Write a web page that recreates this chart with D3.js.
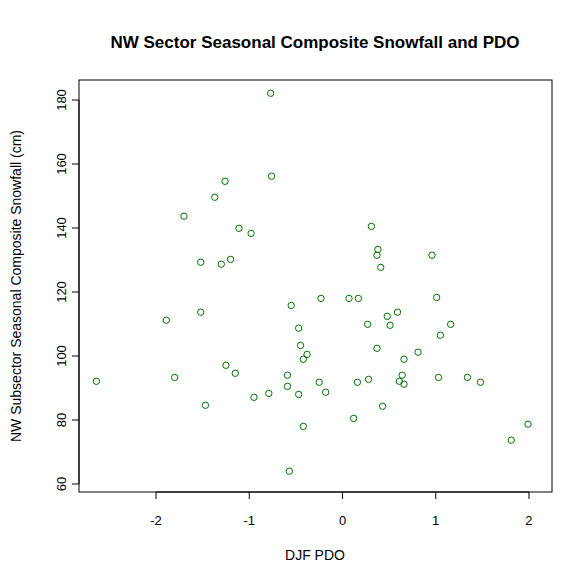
<!DOCTYPE html>
<html>
<head>
<meta charset="utf-8">
<script src="https://d3js.org/d3.v7.min.js"></script>
<style>
  body { margin: 0; background: #fff; }
  text { font-family: "Liberation Sans", Arial, sans-serif; }
</style>
</head>
<body>
<script>
// DJF PDO values and NW subsector seasonal composite snowfall (cm)
var pdo = [-0.77, -0.76, -1.26, -1.37, -1.70, -1.11, -0.98, -1.52, -1.30, -1.20,
           -0.55, -1.89, -1.52, -0.47, -0.45, -0.38, -0.42, -1.25, -1.15, -0.59,
           -0.59, -2.64, -1.80, -0.95, -0.79, -0.47, -1.47, -0.42, -0.57, -0.25,
           -0.23, 0.31, 0.38, 0.37, 0.41, 0.96, 0.07, 0.17, 1.01, 0.48,
           0.59, 0.27, 0.51, 1.16, 1.05, 0.37, 0.81, 0.66, 0.64, 0.61,
           0.66, 1.03, 1.34, 1.48, 0.16, 0.28, -0.18, 0.43, 0.12, 1.99, 1.81];
var snow = [182.1, 156.2, 154.6, 149.6, 143.7, 139.9, 138.3, 129.3, 128.7, 130.2,
            115.8, 111.2, 113.7, 108.7, 103.3, 100.5, 99.0, 97.1, 94.6, 94.0,
            90.5, 92.1, 93.3, 87.1, 88.3, 88.0, 84.6, 78.0, 64.0, 91.8,
            118.0, 140.5, 133.3, 131.5, 127.7, 131.5, 118.0, 118.0, 118.3, 112.4,
            113.7, 109.9, 109.6, 109.9, 106.5, 102.4, 101.2, 99.0, 94.0, 92.1,
            91.2, 93.3, 93.3, 91.8, 91.8, 92.7, 88.7, 84.3, 80.5, 78.7, 73.7];
var xTicks = [-2, -1, 0, 1, 2];
var yTicks = [60, 80, 100, 120, 140, 160, 180];

var W = 586, H = 585;
var pLeft = 79, pRight = 552, pTop = 80, pBottom = 492;

var svg = d3.select("body").append("svg").attr("width", W).attr("height", H);

var x = d3.scaleLinear().domain([-2.826, 2.247]).range([pLeft, pRight]);
var y = d3.scaleLinear().domain([57.5, 186.25]).range([pBottom, pTop]);

svg.append("rect")
  .attr("x", pLeft).attr("y", pTop)
  .attr("width", pRight - pLeft).attr("height", pBottom - pTop)
  .attr("fill", "none").attr("stroke", "#000");

// x axis
var gx = svg.append("g");
gx.append("line").attr("x1", x(-2)).attr("x2", x(2)).attr("y1", pBottom).attr("y2", pBottom).attr("stroke", "#000");
gx.selectAll("line.t").data(xTicks).enter().append("line").attr("class", "t")
  .attr("x1", d => x(d)).attr("x2", d => x(d)).attr("y1", pBottom).attr("y2", pBottom + 7).attr("stroke", "#000");
gx.selectAll("text").data(xTicks).enter().append("text")
  .attr("x", d => x(d)).attr("y", 525).attr("text-anchor", "middle")
  .attr("font-size", 13).text(d => d);

// y axis
var gy = svg.append("g");
gy.append("line").attr("x1", pLeft).attr("x2", pLeft).attr("y1", y(60)).attr("y2", y(180)).attr("stroke", "#000");
gy.selectAll("line.t").data(yTicks).enter().append("line").attr("class", "t")
  .attr("x1", pLeft - 7).attr("x2", pLeft).attr("y1", d => y(d)).attr("y2", d => y(d)).attr("stroke", "#000");
gy.selectAll("text").data(yTicks).enter().append("text")
  .attr("transform", d => "translate(66," + y(d) + ") rotate(-90)")
  .attr("text-anchor", "middle").attr("font-size", 13).text(d => d);

// points
svg.selectAll("circle").data(pdo).enter().append("circle")
  .attr("cx", d => x(d)).attr("cy", (d, i) => y(snow[i]))
  .attr("r", 3.2).attr("fill", "none").attr("stroke", "#007000").attr("stroke-width", 1);

// labels
svg.append("text").attr("x", 315).attr("y", 48).attr("text-anchor", "middle")
  .attr("font-size", 17).attr("font-weight", "bold")
  .text("NW Sector Seasonal Composite Snowfall and PDO");
svg.append("text").attr("x", 315).attr("y", 560).attr("text-anchor", "middle")
  .attr("font-size", 14).text("DJF PDO");
svg.append("text").attr("transform", "translate(21," + ((pTop + pBottom) / 2) + ") rotate(-90)")
  .attr("text-anchor", "middle").attr("font-size", 14)
  .text("NW Subsector Seasonal Composite Snowfall (cm)");
</script>
</body>
</html>
